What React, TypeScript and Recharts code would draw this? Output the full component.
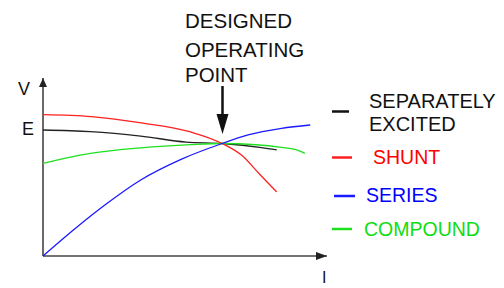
import React from 'react';
import { LineChart, Line, XAxis, YAxis, ReferenceLine } from 'recharts';

// Current I (0..100 of axis length) and terminal voltage V (0..100 of axis height)
const separatelyI = [0, 16.7, 34.4, 50.4, 63.1, 77.0, 82.3];
const separatelyV = [70.8, 69.9, 67.4, 64.0, 63.2, 60.9, 59.6];

const shuntI = [0, 17, 34, 52, 63.1, 69.9, 76.2, 82.3];
const shuntV = [79.4, 78.3, 74.9, 69.7, 63.2, 56.7, 46.1, 36.0];

const seriesI = [0, 10.7, 22.6, 34.4, 48.6, 63.1, 72.2, 84.0, 94.1];
const seriesV = [0, 14.6, 29.6, 42.7, 54.3, 63.2, 68.0, 71.7, 73.6];

const compoundI = [0, 16.7, 34.4, 52.1, 63.1, 75.0, 84.0, 88.7, 92.2];
const compoundV = [52.1, 57.7, 60.8, 62.6, 63.2, 62.5, 61.0, 59.9, 57.7];

const legendItems = [
  { lines: ['SEPARATELY', 'EXCITED'], color: '#111111', text: '#111111' },
  { lines: ['SHUNT'], color: '#ff2020', text: '#ff0000' },
  { lines: ['SERIES'], color: '#1a1aff', text: '#0000ff' },
  { lines: ['COMPOUND'], color: '#1ee01e', text: '#10dd10' },
];

const toData = (xs: number[], ys: number[]) => xs.map((x, i) => ({ x, y: ys[i] }));

const FONT = "'Liberation Sans', Arial, sans-serif";
const txt = (size: number): React.CSSProperties => ({ fontFamily: FONT, fontSize: size });

export default function App() {
  return (
    <div style={{ position: 'fixed', left: 0, top: 0, width: 504, height: 288, background: '#fff' }}>
      <LineChart
        width={504}
        height={288}
        margin={{ top: 78, right: 177, bottom: 32, left: 43 }}
      >
        <XAxis type="number" dataKey="x" domain={[0, 100]} hide allowDuplicatedCategory={false} />
        <YAxis type="number" dataKey="y" domain={[0, 100]} hide />
        <ReferenceLine y={0} stroke="#444" strokeWidth={1.6} ifOverflow="extendDomain" />
        <ReferenceLine x={0} stroke="#444" strokeWidth={1.6} ifOverflow="extendDomain" />
        <Line data={toData(separatelyI, separatelyV)} dataKey="y" type="monotone" stroke="#222" strokeWidth={1.3} dot={false} isAnimationActive={false} />
        <Line data={toData(compoundI, compoundV)} dataKey="y" type="monotone" stroke="#1ee01e" strokeWidth={1.3} dot={false} isAnimationActive={false} />
        <Line data={toData(shuntI, shuntV)} dataKey="y" type="monotone" stroke="#ff2020" strokeWidth={1.3} dot={false} isAnimationActive={false} />
        <Line data={toData(seriesI, seriesV)} dataKey="y" type="monotone" stroke="#1a1aff" strokeWidth={1.3} dot={false} isAnimationActive={false} />
      </LineChart>
      <svg width={504} height={288} style={{ position: 'absolute', left: 0, top: 0, pointerEvents: 'none' }}>
        {/* axis arrowheads */}
        <polygon points="43,78 39,87 47,87" fill="#222" />
        <polygon points="327,256 316,252 316,260" fill="#222" />
        {/* axis labels */}
        <text x={18} y={95} style={txt(18)} fill="#111">V</text>
        <text x={22} y={135} style={txt(18)} fill="#111">E</text>
        <text x={322} y={283} style={txt(16)} fill="#111">I</text>
        {/* annotation */}
        <text style={txt(20.5)} fill="#111">
          <tspan x={185} y={28}>DESIGNED</tspan>
          <tspan x={185} y={57}>OPERATING</tspan>
          <tspan x={185} y={82}>POINT</tspan>
        </text>
        <line x1={222.5} y1={86} x2={222.5} y2={118} stroke="#111" strokeWidth={2.5} />
        <polygon points="216.5,114 228.5,114 222.5,134" fill="#111" />
        {/* legend */}
        <line x1={332} y1={111.5} x2={349} y2={111.5} stroke={legendItems[0].color} strokeWidth={2.5} />
        <text style={txt(20)} fill={legendItems[0].text}>
          <tspan x={369} y={108}>{legendItems[0].lines[0]}</tspan>
          <tspan x={369} y={131}>{legendItems[0].lines[1]}</tspan>
        </text>
        <line x1={332} y1={157.5} x2={352} y2={157.5} stroke={legendItems[1].color} strokeWidth={2.5} />
        <text x={373} y={164} style={txt(19.5)} fill={legendItems[1].text}>{legendItems[1].lines[0]}</text>
        <line x1={334} y1={196} x2={355} y2={196} stroke={legendItems[2].color} strokeWidth={2.5} />
        <text x={366} y={201.5} style={txt(19.5)} fill={legendItems[2].text}>{legendItems[2].lines[0]}</text>
        <line x1={332} y1={229} x2={352} y2={229} stroke={legendItems[3].color} strokeWidth={2.5} />
        <text x={364} y={236} style={txt(19.5)} fill={legendItems[3].text}>{legendItems[3].lines[0]}</text>
      </svg>
    </div>
  );
}
